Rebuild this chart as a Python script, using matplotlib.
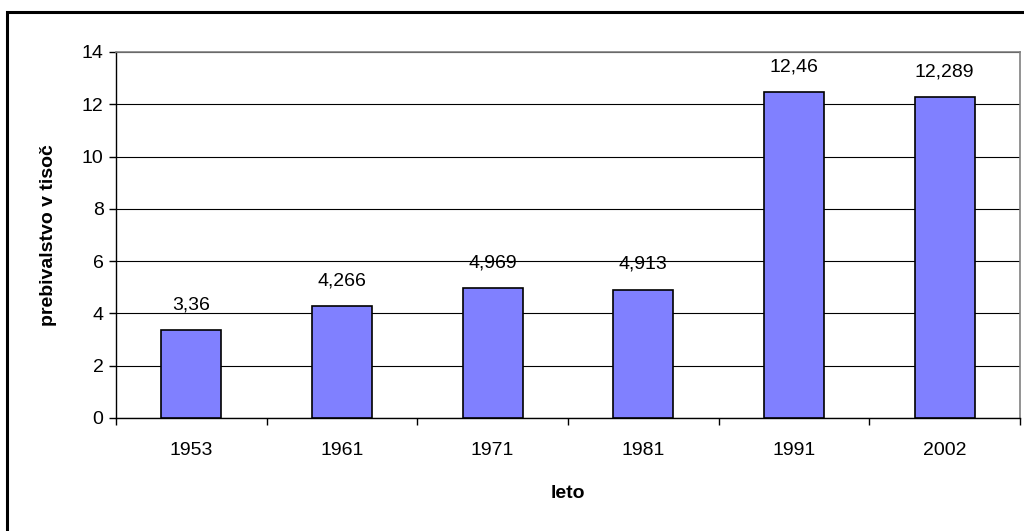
import matplotlib
matplotlib.use("Agg")
import matplotlib.pyplot as plt
from matplotlib.patches import Rectangle
import numpy as np

plt.rcParams['font.family'] = ['Liberation Sans', 'DejaVu Sans']

# podatki
leta = ["1953", "1961", "1971", "1981", "1991", "2002"]
prebivalstvo = [3.36, 4.266, 4.969, 4.913, 12.46, 12.289]
oznake = ["3,36", "4,266", "4,969", "4,913", "12,46", "12,289"]
y_ticks = [0, 2, 4, 6, 8, 10, 12, 14]

fig = plt.figure(figsize=(10.24, 5.31), dpi=100)
ax = fig.add_axes([116/1024, 1-418/531, (1020-116)/1024, (418-52)/531])

x = np.arange(len(leta))
ax.bar(x, prebivalstvo, width=0.4, color="#8080FF", edgecolor="black", linewidth=1.2, zorder=3)

for xi, v, t in zip(x, prebivalstvo, oznake):
    ax.annotate(t, (xi, v), xytext=(0, 12), textcoords="offset points",
                ha="center", va="bottom", fontsize=14)

ax.set_xlim(-0.5, len(leta) - 0.5)
ax.set_ylim(0, 14)
ax.set_yticks(y_ticks)
ax.set_yticklabels([str(t) for t in y_ticks], fontsize=14)
ax.set_xticks(x)
ax.set_xticklabels(leta, fontsize=14)
ax.tick_params(axis="x", length=0, pad=17)
ax.set_xticks(np.arange(-0.5, len(leta)), minor=True)
ax.tick_params(axis="x", which="minor", length=5, width=1, direction="out")
ax.tick_params(axis="y", length=5, width=1, direction="out", pad=4)

ax.yaxis.grid(True, color="black", linewidth=0.8, zorder=0)
ax.set_axisbelow(True)
for s in ["top", "right"]:
    ax.spines[s].set_color("#808080")
    ax.spines[s].set_linewidth(1.2)
for s in ["left", "bottom"]:
    ax.spines[s].set_color("black")
    ax.spines[s].set_linewidth(1)

ax.set_xlabel("leto", fontsize=14, fontweight="bold", labelpad=19)
ax.set_ylabel("prebivalstvo v tisoč", fontsize=14, fontweight="bold", labelpad=18)

# okvir okoli grafa
fig.patches.append(Rectangle((7/1024, -0.2), 1.2, 1-12/531+0.2, transform=fig.transFigure,
                             fill=False, edgecolor="black", linewidth=2.2))

fig.savefig("out.png", dpi=100)
